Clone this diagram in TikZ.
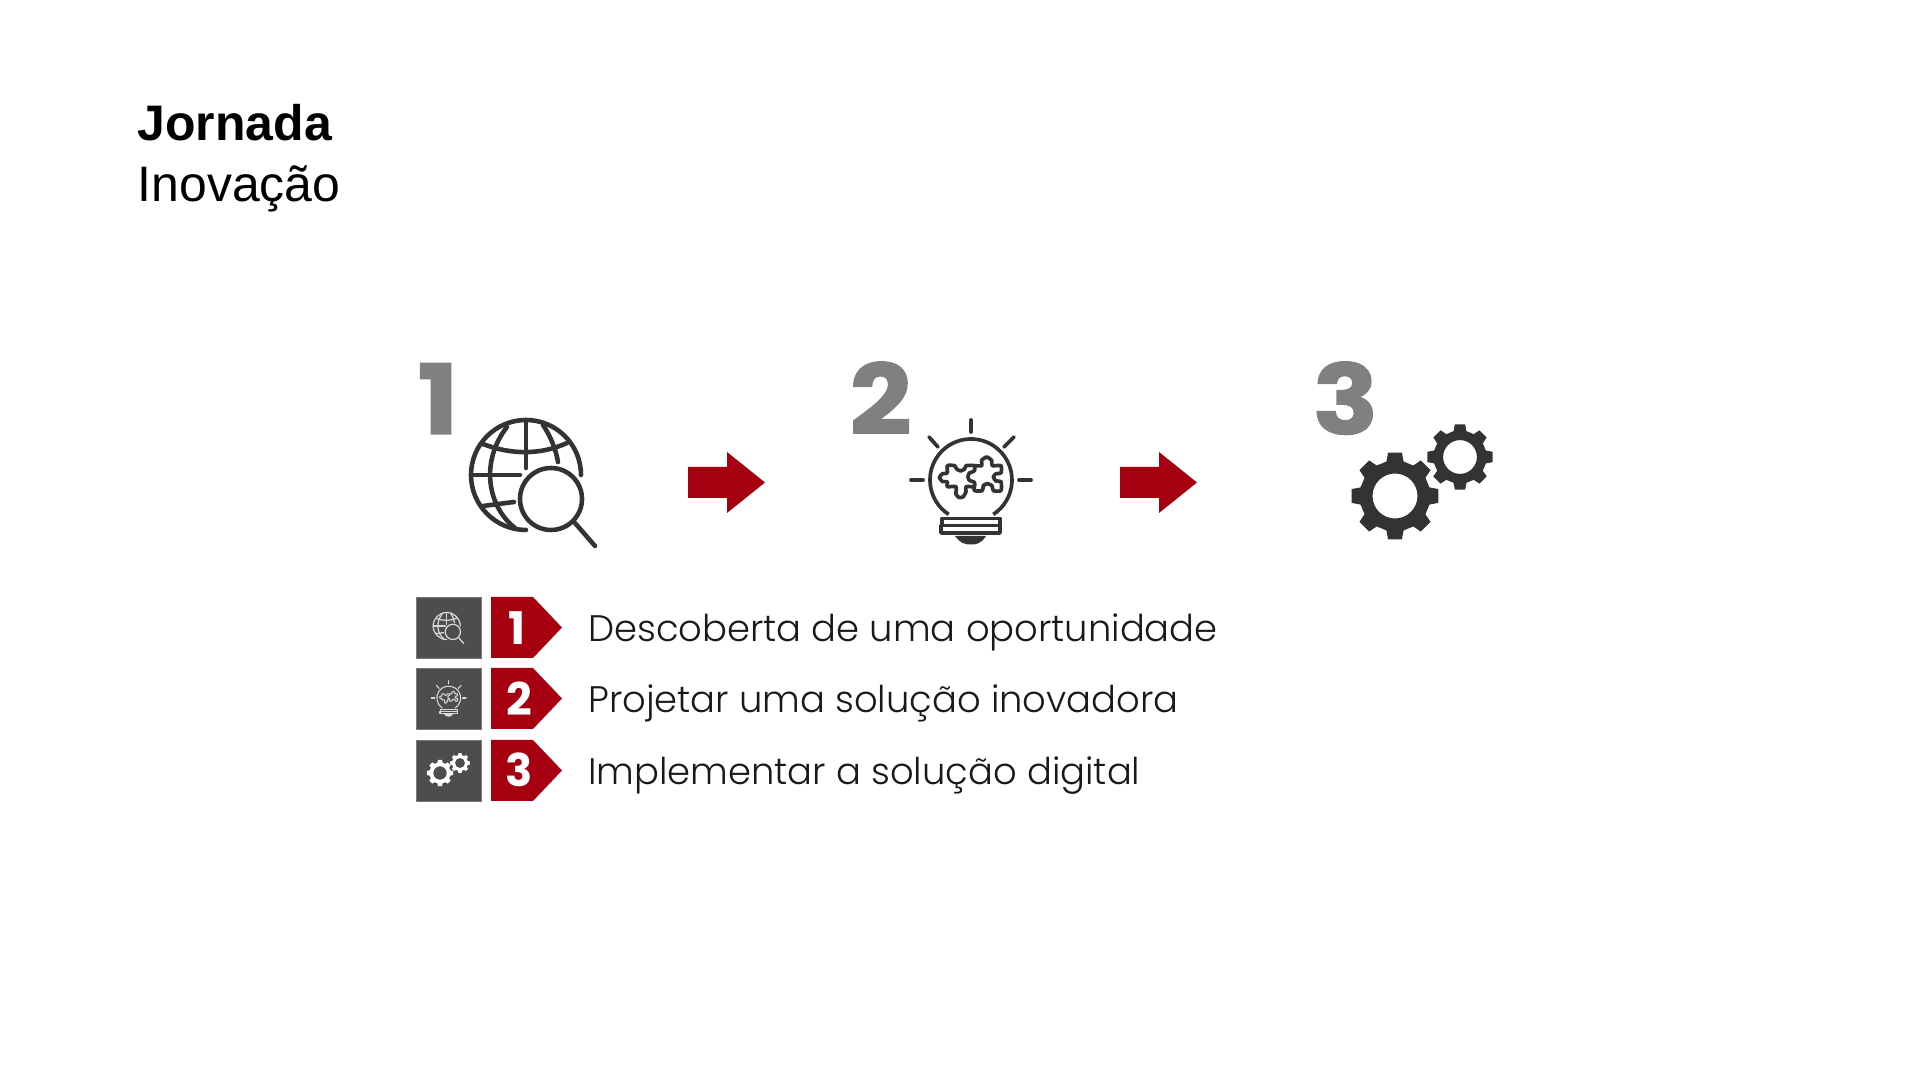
\documentclass[tikz,border=0pt]{standalone}
\usepackage{fontspec}
\setmainfont{Liberation Sans}
\newfontfamily\listfont{Poppins Light}
\newfontfamily\tagfont{Poppins}
\newfontfamily\bignum[BoldFeatures={FakeBold=1.5,FakeStretch=1.12}]{Poppins}
\definecolor{redtag}{HTML}{A60010}
\definecolor{darkicon}{HTML}{333333}
\definecolor{greybox}{HTML}{4D4D4D}
\definecolor{greynum}{HTML}{808080}
\tikzset{
  titletext/.style={anchor=base west,inner sep=0pt,font=\fontsize{14.2}{17}\selectfont},
  bignumber/.style={anchor=base west,inner sep=0pt,text=greynum,font=\fontsize{27.5}{30}\selectfont\bignum\bfseries},
  listtext/.style={anchor=base west,inner sep=0pt,text=black!90,font=\fontsize{10.5}{12}\selectfont\listfont},
  tagnumber/.style={anchor=base,inner sep=0pt,text=white,font=\fontsize{12.8}{14}\selectfont\tagfont\bfseries},
  iconbox/.style={fill=greybox,draw=greybox!75!white,line width=.25pt,minimum width=.65cm,minimum height=.61cm,inner sep=0pt},
  pics/redarrow/.style={code={
    \fill[redtag] (0,-15.5) -- (39,-15.5) -- (39,-30.5) -- (77,0) -- (39,30.5) -- (39,15.5) -- (0,15.5) -- cycle;
  }},
  pics/redtagshape/.style={code={
    \fill[redtag] (0,0) -- (42,0) -- (71,30.5) -- (42,61) -- (0,61) -- cycle;
  }},
  pics/globeicon/.style={code={
    \draw[line width=#1,line cap=round] (0:55) arc[start angle=0,end angle=-270,radius=55];
    \draw[line width=#1,line cap=round] (0,-55) -- (0,-7);
    \draw[line width=#1,line cap=round] (-55,0) -- (-6,0);
    \draw[line width=#1,line cap=round] (-43,-31) .. controls (-15,-20) and (15,-20) .. (41,-32);
    \draw[line width=#1,line cap=round] (-43,31) -- (-12,27);
    \draw[line width=#1,line cap=round] (-19,-48) .. controls (-45,-15) and (-40,30) .. (-11,53);
    \draw[line width=#1,line cap=round] (17,-50) .. controls (25,-38) and (30,-25) .. (32,-13);
    \draw[line width=#1] (25,24) circle[radius=31];
    \draw[line width=#1,line cap=round] (49,48) -- (69,71);
  }},
  pics/bulbicon/.style={code={
    \draw[line width=#1,line cap=round] (0,-60) -- (0,-48);
    \draw[line width=#1,line cap=round] (-42,-43) -- (-33,-33);
    \draw[line width=#1,line cap=round] (43,-43) -- (33,-33);
    \draw[line width=#1,line cap=round] (-60,0) -- (-48,0);
    \draw[line width=#1,line cap=round] (48,0) -- (60,0);
    \draw[line width=#1] (123:41) arc[start angle=-237,end angle=57,radius=41];
    \draw[line width=#1,line join=round] (-29,38.5) rectangle (29,45.5);
    \draw[line width=#1,line join=round] (-30,45.5) rectangle (29,53);
    \fill (-16,56) .. controls (-10,64) and (-5,64.5) .. (0,64.5) .. controls (5,64.5) and (10,64) .. (15,56) -- cycle;
    \begin{scope}[shift={(-41,-35)},scale=1/3]
      \draw[line width=#1,line join=round] plot[smooth cycle,tension=.35] coordinates {(52,62) (74,62) (80,72) (92,78) (104,72) (108,62) (133,62) (133,78) (118,84) (114,95) (118,106) (133,112) (133,125) (108,125) (108,140) (100,155) (88,158) (78,148) (78,125) (52,125) (52,110) (38,110) (28,97) (38,86) (52,84)};
      \draw[line width=#1,line join=round] plot[smooth,tension=.35] coordinates {(133,125) (133,137) (157,137) (160,122) (172,116) (186,122) (190,137) (213,137) (213,110) (198,108) (190,96) (198,86) (213,84) (213,62) (187,62) (185,46) (170,36) (155,46) (155,62) (133,62)};
    \end{scope}
  }},
  pics/gearwheel/.style={code={
    \fill[even odd rule] (-14:35.5) \foreach \a in {0,45,...,315}{ -- (\a-14:35.5) -- (\a-9:44) -- (\a+9:44) -- (\a+14:35.5) } -- cycle (0,0) circle[radius=22.5];
  }}
}
\begin{document}
\begin{tikzpicture}[x=.01cm,y=-.01cm]
\useasboundingbox (0,0) rectangle (1920,1080);
\node[titletext] (titleone) at (137,141) {\bfseries Jornada};
\node[titletext] (titletwo) at (137,202) {Inovação};

\node[bignumber] (numone) at (417,434) {1};
\node[bignumber] (numtwo) at (849,434) {2};
\node[bignumber] (numthree) at (1312,434) {3};

\pic[color=darkicon] (globe) at (526,475) {globeicon=1.3pt};
\pic[color=darkicon] (bulb) at (971,480) {bulbicon=1.05pt};
\pic[color=darkicon] (gearbig) at (1395,496) {gearwheel};
\pic[color=darkicon,scale=.75] (gearlittle) at (1460,457) {gearwheel};

\pic (arrowone) at (688,482.5) {redarrow};
\pic (arrowtwo) at (1120,482.5) {redarrow};

\node[iconbox] (boxone) at (448.5,627.5) {};
\node[iconbox] (boxtwo) at (448.5,698.5) {};
\node[iconbox] (boxthree) at (448.5,770.5) {};
\pic[color=white!85!black,scale=.246] (globesmall) at (446.7,626) {globeicon=.35pt};
\pic[color=white!85!black,scale=.29] (bulbsmall) at (448.7,698) {bulbicon=.3pt};
\pic[color=white,scale=.3] (gearbigsmall) at (440,773) {gearwheel};
\pic[color=white,scale=.225] (gearlittlesmall) at (460,763) {gearwheel};

\pic (tagone) at (491,597) {redtagshape};
\pic (tagtwo) at (491,668) {redtagshape};
\pic (tagthree) at (491,740) {redtagshape};
\node[tagnumber] (tagnumone) at (517,645) {1};
\node[tagnumber] (tagnumtwo) at (519,716) {2};
\node[tagnumber] (tagnumthree) at (519,787) {3};

\node[listtext] (lineone) at (587.5,642) {Descoberta de uma oportunidade};
\node[listtext] (linetwo) at (587.5,713) {Projetar uma solução inovadora};
\node[listtext] (linethree) at (587.5,785) {Implementar a solução digital};
\end{tikzpicture}
\end{document}
